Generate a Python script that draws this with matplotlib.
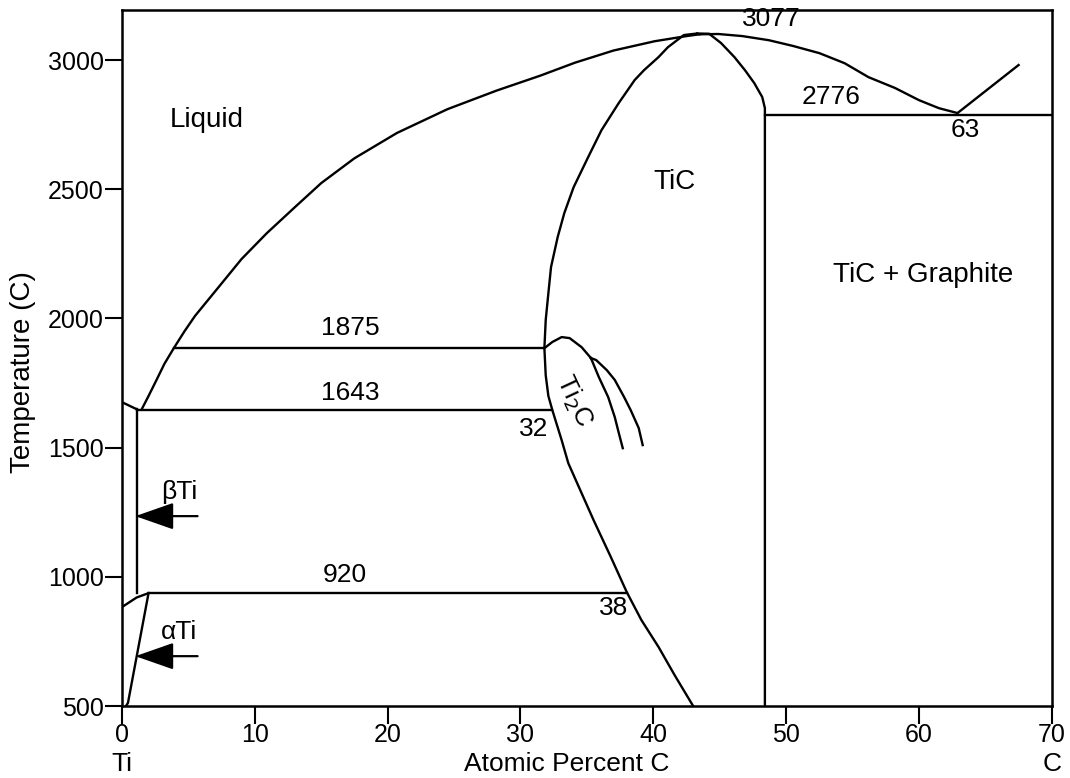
import numpy as np
import matplotlib.pyplot as plt

plt.rcParams['font.family'] = ['Liberation Sans', 'DejaVu Sans']

# phase boundaries: (at.% C, temperature C)
liq_x = [1.5, 2.0, 2.6, 3.2, 3.9, 4.7, 5.5, 7.3, 9.0, 10.9, 13.0, 15.0, 17.5,
         20.7, 24.5, 28.2, 31.5, 34.1, 37.0, 40.1, 42.5, 43.5]
liq_t = [1650, 1700, 1762, 1825, 1885, 1950, 2010, 2123, 2230, 2330, 2430, 2524, 2620,
         2718, 2810, 2882, 2940, 2990, 3037, 3073, 3093, 3100]

liq_c_x = [43.5, 44.9, 46.7, 48.7, 50.5, 52.5, 54.4, 56.2, 58.2, 60.0, 61.5, 62.9]
liq_c_t = [3100, 3101, 3093, 3077, 3055, 3027, 2988, 2934, 2892, 2845, 2814, 2795]

hyper_x = [62.9, 67.5]
hyper_t = [2795, 2981]

tic_left_x = [43.3, 42.3, 41.1, 40.4, 39.3, 38.6, 37.4, 36.1, 35.1, 34.0, 33.3, 32.8,
              32.3, 32.1, 31.9, 31.8, 31.9, 32.1, 32.4, 33.1, 33.6, 34.6, 35.5, 36.8,
              38.0, 39.1, 40.4, 41.6, 43.0]
tic_left_t = [3103, 3097, 3050, 3012, 2961, 2923, 2834, 2729, 2625, 2508, 2408, 2315,
              2199, 2098, 1994, 1885, 1780, 1700, 1645, 1529, 1440, 1324, 1220, 1077,
              941, 833, 728, 620, 500]

tic_right_x = [43.3, 44.2, 45.1, 46.1, 46.9, 47.6, 48.2, 48.4, 48.4]
tic_right_t = [3103, 3102, 3066, 3012, 2961, 2911, 2857, 2814, 500]

ti2c_x = [31.8, 32.4, 33.1, 33.7, 34.6, 35.3]
ti2c_t = [1885, 1909, 1928, 1924, 1889, 1847]
ti2c_in_x = [35.3, 35.9, 36.6, 37.1, 37.4, 37.7]
ti2c_in_t = [1847, 1773, 1696, 1618, 1557, 1498]
ti2c_out_x = [35.3, 35.7, 36.5, 37.1, 37.8, 38.3, 38.9, 39.2]
ti2c_out_t = [1847, 1839, 1800, 1762, 1696, 1645, 1576, 1510]

# Ti-rich corner
melt_x = [0.0, 1.1]
melt_t = [1676, 1649]
beta_x = [1.1, 1.1]
beta_t = [1649, 937]
ab_x = [0.0, 1.1, 2.0]
ab_t = [883, 920, 937]
alpha_x = [2.0, 0.45, 0.3]
alpha_t = [937, 512, 500]

# invariant lines
iso_x0 = [3.9, 1.1, 2.0, 48.4]
iso_x1 = [31.8, 32.4, 38.0, 70.0]
iso_t = [1885, 1645, 937, 2787]

region_labels = [('Liquid', 6.4, 2768), ('TiC', 41.6, 2528), ('TiC + Graphite', 60.3, 2168)]
value_labels = [
    ('3077', 48.9, 3160), ('2776', 53.4, 2857), ('63', 63.5, 2729),
    ('1875', 17.2, 1963), ('1643', 17.2, 1711), ('32', 31.0, 1572),
    ('920', 16.8, 1007), ('38', 37.0, 879),
]

fig = plt.figure(figsize=(10.7, 7.78), dpi=100)
ax = fig.add_axes([0.114, 0.0925, 0.869, 0.895])

lw = 1.7
for xs, ts in [(liq_x, liq_t), (liq_c_x, liq_c_t), (hyper_x, hyper_t),
               (tic_left_x, tic_left_t), (tic_right_x, tic_right_t),
               (ti2c_x, ti2c_t), (ti2c_in_x, ti2c_in_t), (ti2c_out_x, ti2c_out_t),
               (melt_x, melt_t), (beta_x, beta_t), (ab_x, ab_t), (alpha_x, alpha_t)]:
    ax.plot(xs, ts, color='black', lw=lw, solid_joinstyle='round')

for x0, x1, t in zip(iso_x0, iso_x1, iso_t):
    ax.plot([x0, x1], [t, t], color='black', lw=lw)

for s, x, t in region_labels:
    ax.text(x, t, s, fontsize=20, ha='center', va='center')
for s, x, t in value_labels:
    ax.text(x, t, s, fontsize=19, ha='center', va='center')

ax.text(34.0, 1680, 'Ti$_2$C', fontsize=19, rotation=-65, ha='center', va='center',
        rotation_mode='anchor')

# arrows marking the beta and alpha solid solutions
for s, t in [('\u03b2Ti', 1235), ('\u03b1Ti', 693)]:
    ax.annotate('', xy=(0.8, t), xytext=(5.9, t),
                arrowprops=dict(arrowstyle='-|>,head_length=1.0,head_width=0.35',
                                color='black', lw=1.6, mutation_scale=24))
    ax.text(4.3, t + 95, s, fontsize=19, ha='center', va='center')

ax.set_xlim(0, 70)
ax.set_ylim(500, 3195)
ax.set_xticks(np.arange(0, 71, 10))
ax.set_yticks(np.arange(500, 3001, 500))
ax.tick_params(axis='x', direction='out', length=13, width=1.5, labelsize=18, pad=-1)
ax.tick_params(axis='y', direction='out', length=12, width=1.5, labelsize=18, pad=1)
for sp in ax.spines.values():
    sp.set_linewidth(1.8)

ax.text(0, -0.083, 'Ti', transform=ax.get_xaxis_transform(), fontsize=19,
        ha='center', va='center')
ax.text(70, -0.083, 'C', transform=ax.get_xaxis_transform(), fontsize=19,
        ha='center', va='center')
ax.text(33.5, -0.083, 'Atomic Percent C', transform=ax.get_xaxis_transform(),
        fontsize=19, ha='center', va='center')
ax.set_ylabel('Temperature (C)', fontsize=20)
ax.yaxis.set_label_coords(-0.092, 0.48)

fig.savefig('out.png', dpi=100)
